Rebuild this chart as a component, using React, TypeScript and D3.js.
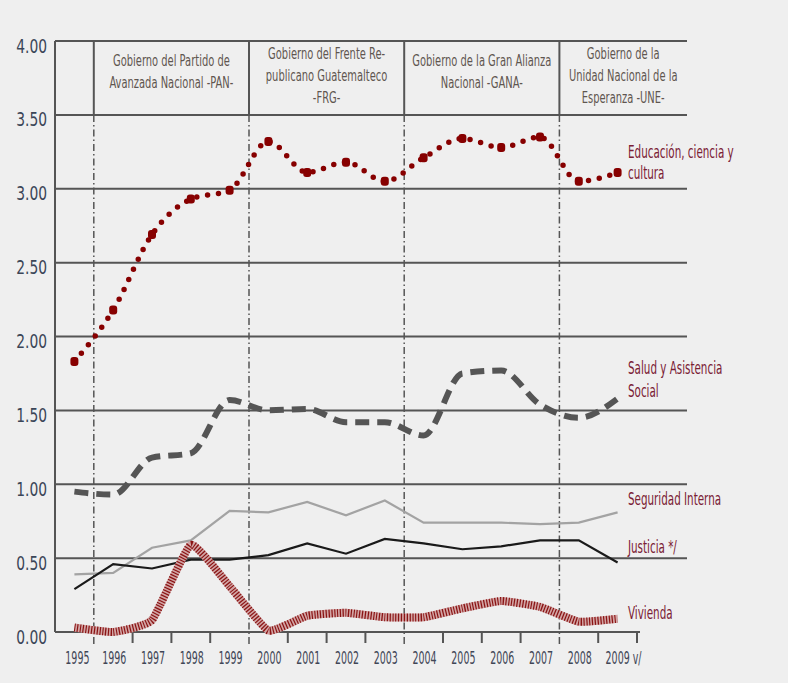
import React from 'react';
import * as d3 from 'd3';

const years = ['1995','1996','1997','1998','1999','2000','2001','2002','2003','2004','2005','2006','2007','2008','2009'];
const yearLabels = ['1995','1996','1997','1998','1999','2000','2001','2002','2003','2004','2005','2006','2007','2008','2009 v/'];
const yTicks = [0, 0.5, 1, 1.5, 2, 2.5, 3, 3.5, 4];

const educacion = [1.83, 2.18, 2.69, 2.93, 2.99, 3.32, 3.11, 3.18, 3.05, 3.21, 3.34, 3.28, 3.35, 3.05, 3.11];
const salud = [0.95, 0.93, 1.18, 1.21, 1.57, 1.50, 1.51, 1.42, 1.42, 1.33, 1.75, 1.77, 1.54, 1.45, 1.58];
const seguridad = [0.39, 0.40, 0.57, 0.62, 0.82, 0.81, 0.88, 0.79, 0.89, 0.74, 0.74, 0.74, 0.73, 0.74, 0.81];
const justicia = [0.29, 0.46, 0.43, 0.49, 0.49, 0.52, 0.60, 0.53, 0.63, 0.60, 0.56, 0.58, 0.62, 0.62, 0.47];
const vivienda = [0.03, 0.00, 0.08, 0.59, 0.31, 0.01, 0.11, 0.13, 0.10, 0.10, 0.16, 0.21, 0.17, 0.07, 0.09];

const govLabels = [
  ['Gobierno del Partido de', 'Avanzada Nacional -PAN-'],
  ['Gobierno del Frente Re-', 'publicano Guatemalteco', '-FRG-'],
  ['Gobierno de la Gran Alianza', 'Nacional -GANA-'],
  ['Gobierno de la', 'Unidad Nacional de la', 'Esperanza -UNE-'],
];
const govStart = ['1996', '2000', '2004', '2008'];

const seriesLabels = [
  ['Educación, ciencia y', 'cultura'],
  ['Salud y Asistencia', 'Social'],
  ['Seguridad Interna'],
  ['Justicia */'],
  ['Vivienda'],
];

const W = 788, H = 683;
const left = 55, right = 637, gridRight = 687;
const FONT = "'DejaVu Sans Condensed','Liberation Sans Narrow',sans-serif";

const T = ({ x, y, sx = 0.8, size, fill, anchor = 'start', children }: any) => (
  <text transform={`translate(${x},${y}) scale(${sx},1)`} fontFamily={FONT} fontSize={size}
    fill={fill} textAnchor={anchor} dominantBaseline="middle">{children}</text>
);

export default function App() {
  const x = d3.scaleBand<string>().domain(years).range([left, right]).padding(0);
  const y = d3.scaleLinear().domain([0, 4]).range([632, 41]);
  const cx = (d: string) => (x(d) as number) + x.bandwidth() / 2;
  const bw = x.bandwidth();

  const curved = (vals: number[]) =>
    d3.line<number>().x((_, i) => cx(years[i])).y(v => y(v)).curve(d3.curveMonotoneX)(vals) as string;
  const straight = (vals: number[]) =>
    d3.line<number>().x((_, i) => cx(years[i])).y(v => y(v))(vals) as string;
  const cardinal = (vals: number[]) =>
    d3.line<number>().x((_, i) => cx(years[i])).y(v => y(v)).curve(d3.curveCardinal.tension(0.6))(vals) as string;

  const sepX = govStart.map(g => x(g) as number);
  const tickX = years.map(yr => (x(yr) as number) + bw).filter(v => !sepX.some(s => Math.abs(s - v) < 1));

  const govCenters = govStart.map((g, i) => {
    const a = x(g) as number;
    const b = i < govStart.length - 1 ? (x(govStart[i + 1]) as number) : gridRight;
    return (a + b) / 2;
  });

  const legendY = [[153, 174], [369, 392], [500], [548], [614]];

  return (
    <svg width={W} height={H} style={{ position: 'absolute', left: 0, top: 0 }}>
      <rect x={0} y={0} width={W} height={H} fill="#efefef" />
      {yTicks.filter(t => t > 0).map(t => (
        <line key={t} x1={left} x2={gridRight} y1={y(t)} y2={y(t)} stroke="#555" strokeWidth={2} />
      ))}
      <line x1={left} x2={left} y1={y(4)} y2={y(0)} stroke="#555" strokeWidth={2} />
      <line x1={left} x2={right + 3} y1={y(0)} y2={y(0)} stroke="#555" strokeWidth={2} />
      {tickX.map((t, i) => (
        <line key={i} x1={t} x2={t} y1={y(0)} y2={y(0) + 11} stroke="#555" strokeWidth={2} />
      ))}
      {sepX.map((s, i) => (
        <g key={i}>
          <line x1={s} x2={s} y1={y(4)} y2={y(3.5)} stroke="#555" strokeWidth={2} />
          <line x1={s} x2={s} y1={y(3.5)} y2={y(0) + 13} stroke="#555" strokeWidth={1.5} strokeDasharray="7 3 1.5 3" />
        </g>
      ))}
      {govLabels.map((lines, i) => (
        <g key={i}>
          {lines.map((ln, j) => (
            <T key={j} x={govCenters[i]} y={75 - 7 * lines.length + j * 22} size={16} sx={0.69} fill="#5f5650" anchor="middle">{ln}</T>
          ))}
        </g>
      ))}
      {yTicks.map(t => (
        <T key={t} x={47} y={y(t) + 6} size={20} sx={0.77} fill="#3b4658" anchor="end">{t.toFixed(2)}</T>
      ))}
      {years.map((yr, i) => (
        i === years.length - 1
          ? <T key={yr} x={cx(yr) - 12} y={659} size={17} sx={0.62} fill="#3f4656" anchor="start">{yearLabels[i]}</T>
          : <T key={yr} x={cx(yr) + (i === 0 ? 3 : 1)} y={659} size={17} sx={0.62} fill="#3f4656" anchor="middle">{yearLabels[i]}</T>
      ))}

      <path d={straight(seguridad)} fill="none" stroke="#a3a3a3" strokeWidth={2.2} />
      <path d={straight(justicia)} fill="none" stroke="#1a1a1a" strokeWidth={2.2} />
      <path d={cardinal(vivienda)} fill="none" stroke="#d2a4a4" strokeWidth={8} strokeLinejoin="round" />
      <path d={cardinal(vivienda)} fill="none" stroke="#8a1414" strokeWidth={8} strokeDasharray="1.2 1.6" strokeLinejoin="round" />
      <path d={curved(salud)} fill="none" stroke="#555555" strokeWidth={6} strokeDasharray="14 8" />
      <path d={curved(educacion)} fill="none" stroke="#870000" strokeWidth={5.5} strokeDasharray="0 11" strokeLinecap="round" />
      {educacion.map((v, i) => (
        <rect key={i} x={cx(years[i]) - 4} y={y(v) - 4.5} width={8} height={9} rx={3} fill="#870000" />
      ))}

      {seriesLabels.map((lines, i) => (
        <g key={i}>
          {lines.map((ln, j) => (
            <T key={j} x={628} y={legendY[i][j]} size={18} sx={0.64} fill="#7a2034">{ln}</T>
          ))}
        </g>
      ))}
    </svg>
  );
}
